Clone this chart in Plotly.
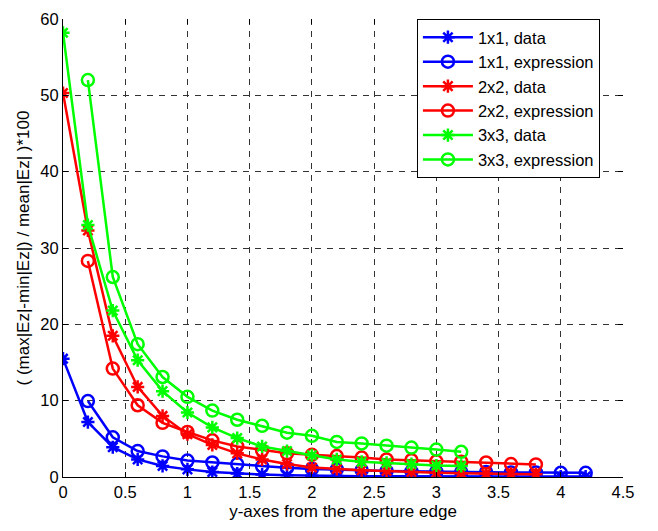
import plotly.graph_objects as go

x_1x1_data = [0, 0.2, 0.4, 0.6, 0.8, 1.0, 1.2, 1.4, 1.6, 1.8, 2.0, 2.2, 2.4, 2.6, 2.8, 3.0, 3.2, 3.4, 3.6, 3.8, 4.0, 4.2]
y_1x1_data = [15.5, 7.2, 3.9, 2.3, 1.45, 1.0, 0.65, 0.45, 0.32, 0.22, 0.16, 0.13, 0.11, 0.1, 0.09, 0.08, 0.07, 0.07, 0.06, 0.06, 0.05, 0.05]
x_1x1_expr = [0.2, 0.4, 0.6, 0.8, 1.0, 1.2, 1.4, 1.6, 1.8, 2.0, 2.2, 2.4, 2.6, 2.8, 3.0, 3.2, 3.4, 3.6, 3.8, 4.0, 4.2]
y_1x1_expr = [9.95, 5.2, 3.4, 2.7, 2.15, 1.9, 1.7, 1.4, 1.2, 1.05, 1.0, 0.9, 0.8, 0.75, 0.7, 0.65, 0.65, 0.6, 0.6, 0.55, 0.55]

x_2x2_data = [0, 0.2, 0.4, 0.6, 0.8, 1.0, 1.2, 1.4, 1.6, 1.8, 2.0, 2.2, 2.4, 2.6, 2.8, 3.0, 3.2, 3.4, 3.6, 3.8]
y_2x2_data = [50.3, 32.3, 18.5, 11.8, 8.0, 5.6, 4.2, 3.1, 2.3, 1.7, 1.25, 1.05, 0.9, 0.8, 0.65, 0.55, 0.5, 0.45, 0.4, 0.35]
x_2x2_expr = [0.2, 0.4, 0.6, 0.8, 1.0, 1.2, 1.4, 1.6, 1.8, 2.0, 2.2, 2.4, 2.6, 2.8, 3.0, 3.2, 3.4, 3.6, 3.8]
y_2x2_expr = [28.3, 14.2, 9.4, 7.1, 5.9, 4.8, 4.0, 3.5, 3.1, 2.9, 2.75, 2.55, 2.3, 2.2, 2.05, 2.0, 1.9, 1.7, 1.65]

x_3x3_data = [0, 0.2, 0.4, 0.6, 0.8, 1.0, 1.2, 1.4, 1.6, 1.8, 2.0, 2.2, 2.4, 2.6, 2.8, 3.0, 3.2]
y_3x3_data = [58.2, 33.0, 21.8, 15.3, 11.25, 8.45, 6.5, 5.1, 4.0, 3.4, 2.85, 2.3, 2.0, 1.85, 1.7, 1.5, 1.45]
x_3x3_expr = [0.2, 0.4, 0.6, 0.8, 1.0, 1.2, 1.4, 1.6, 1.8, 2.0, 2.2, 2.4, 2.6, 2.8, 3.0, 3.2]
y_3x3_expr = [52.0, 26.2, 17.4, 13.1, 10.5, 8.7, 7.5, 6.7, 5.8, 5.4, 4.6, 4.4, 4.1, 3.85, 3.6, 3.3]

x_ticks = [0, 0.5, 1, 1.5, 2, 2.5, 3, 3.5, 4, 4.5]
x_tick_labels = ["0", "0.5", "1", "1.5", "2", "2.5", "3", "3.5", "4", "4.5"]
y_ticks = [0, 10, 20, 30, 40, 50, 60]
y_tick_labels = ["0", "10", "20", "30", "40", "50", "60"]

series = [
    ("1x1, data", x_1x1_data, y_1x1_data, "#0000FF", "asterisk-open"),
    ("1x1, expression", x_1x1_expr, y_1x1_expr, "#0000FF", "circle-open"),
    ("2x2, data", x_2x2_data, y_2x2_data, "#FF0000", "asterisk-open"),
    ("2x2, expression", x_2x2_expr, y_2x2_expr, "#FF0000", "circle-open"),
    ("3x3, data", x_3x3_data, y_3x3_data, "#00FF00", "asterisk-open"),
    ("3x3, expression", x_3x3_expr, y_3x3_expr, "#00FF00", "circle-open"),
]

fig = go.Figure()
for name, xs, ys, color, sym in series:
    fig.add_trace(go.Scatter(
        x=xs, y=ys, name=name, mode="lines+markers",
        line=dict(color=color, width=2.5),
        marker=dict(symbol=sym, size=11 if sym == "asterisk-open" else 12,
                    color=color, line=dict(color=color, width=2.5)),
    ))
# empty helper trace so the mirrored tick axes (top/right) get drawn
fig.add_trace(go.Scatter(x=[], y=[], xaxis="x2", yaxis="y2", showlegend=False,
                         hoverinfo="skip", mode="lines"))

font_family = "Liberation Sans, Arial, sans-serif"
axis_common = dict(
    showline=True, linecolor="black", linewidth=1,
    ticks="inside", ticklen=5, tickcolor="black",
    showgrid=True, gridcolor="#333333", griddash="6px,6px", gridwidth=1,
    zeroline=False,
    tickfont=dict(family=font_family, size=16.5, color="black"),
)
mirror_common = dict(
    showline=False, showgrid=False, zeroline=False,
    ticks="inside", ticklen=5, tickcolor="black", showticklabels=False,
)

fig.update_layout(
    width=658, height=531,
    margin=dict(l=63, r=35, t=10, b=54),
    paper_bgcolor="white", plot_bgcolor="white",
    font=dict(family=font_family, size=16, color="black"),
    xaxis=dict(range=[0, 4.5], tickvals=x_ticks, ticktext=x_tick_labels,
               title=dict(text="y-axes from the aperture edge", font=dict(size=17), standoff=5),
               **axis_common),
    yaxis=dict(range=[0, 60], tickvals=y_ticks, ticktext=y_tick_labels,
               title=dict(text="( (max|Ez|-min|Ez|) / mean|Ez| )*100", font=dict(size=17), standoff=6),
               **axis_common),
    xaxis2=dict(range=[0, 4.5], tickvals=x_ticks, overlaying="x", side="top", **mirror_common),
    yaxis2=dict(range=[0, 60], tickvals=y_ticks, overlaying="y", side="right", **mirror_common),
    legend=dict(x=0.632, y=1.0, xanchor="left", yanchor="top",
                bgcolor="white", bordercolor="black", borderwidth=1,
                font=dict(size=16.5), tracegroupgap=0, itemwidth=50),
    showlegend=True,
)

fig.write_html("out.html")
